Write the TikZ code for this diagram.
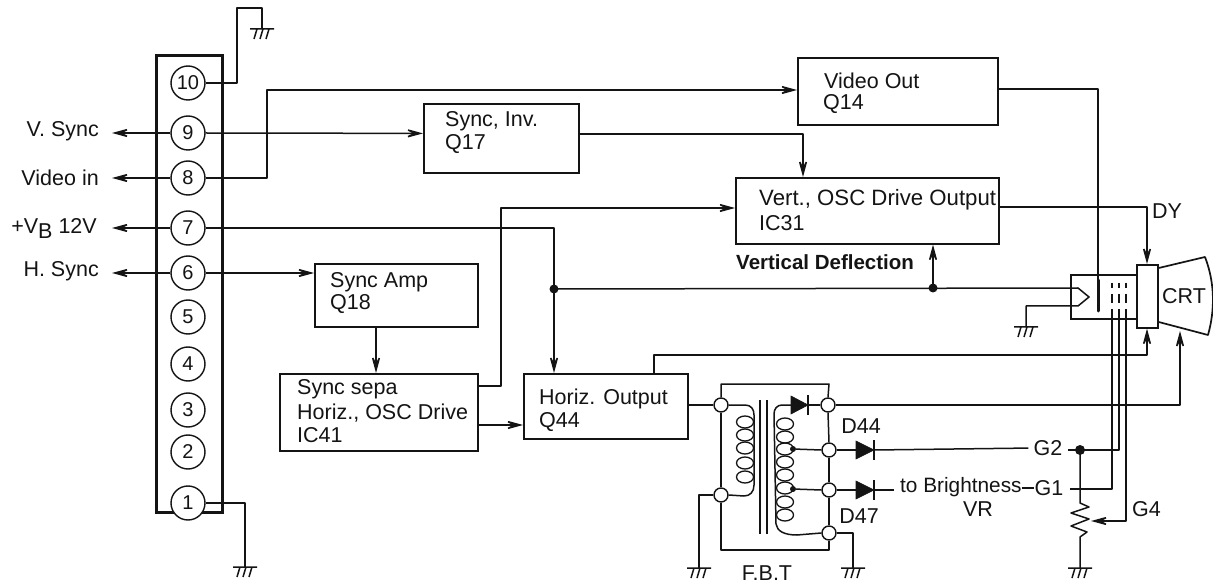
\documentclass[tikz,border=0pt]{standalone}
\usepackage{fontspec}
\setmainfont{Liberation Sans}
\usetikzlibrary{arrows.meta,calc}
\definecolor{ink}{gray}{0.08}
\tikzset{
  wire/.style={line width=1.5pt,line join=round,draw=ink},
  arr/.style={wire,-{Stealth[length=22pt,width=12pt,inset=12pt]}},
  blockbox/.style={draw=ink,line width=1.7pt,rectangle,inner sep=0pt,anchor=north west},
  pin/.style={circle,draw=ink,fill=white,line width=1.4pt,minimum size=34pt,inner sep=0pt,text=ink,font=\fontsize{20}{20}\selectfont},
  term/.style={circle,draw=ink,fill=white,line width=1.4pt,minimum size=14pt,inner sep=0pt},
  lbl/.style={inner sep=0pt,font=\fontsize{21.5}{24}\selectfont,text=ink},
  lblw/.style={lbl,anchor=west,align=left},
  dot/.style={circle,fill=ink,minimum size=9pt,inner sep=0pt},
  diodetri/.style={fill=ink,draw=ink,line width=.6pt},
  gnd/.pic={\draw[line width=1.5pt,draw=ink] (-12,0)--(12,0) (-5,0)--(-8,10) (1,0)--(-2,10) (7,0)--(4,10);},
  coilloop/.style={line width=1.3pt,draw=ink},
}
\begin{document}
\begin{tikzpicture}[x=1pt,y=-1pt]
\useasboundingbox (0,0) rectangle (1213,585);
\fill[white] (0,0) rectangle (1213,585);
% connector panel
\node[blockbox,line width=3pt,minimum width=66pt,minimum height=457pt] (panel) at (155,54) {};
\foreach \n/\yy in {10/83,9/133,8/178,7/228,6/273,5/317,4/364,3/410,2/452,1/503}{
  \node[pin] (p\n) at (188,\yy) {\n};
}
% blocks
\node[blockbox,minimum width=200pt,minimum height=67pt] (video) at (797,57) {};
\node[blockbox,minimum width=155pt,minimum height=69pt] (inv) at (423,103) {};
\node[blockbox,minimum width=263pt,minimum height=66pt] (vert) at (735,177) {};
\node[blockbox,minimum width=163pt,minimum height=63pt] (amp) at (314,263) {};
\node[blockbox,minimum width=198pt,minimum height=77pt] (sepa) at (279,373) {};
\node[blockbox,minimum width=164pt,minimum height=65pt] (horiz) at (523,373) {};
% block labels
\node[lblw] at (824,81) {Video Out};
\node[lblw] at (823,104) {Q14};
\node[lblw] at (445,121) {Sync, Inv.};
\node[lblw] at (445,144) {Q17};
\node[lblw,font=\fontsize{22.2}{24}\selectfont] at (759,200) {Vert., OSC Drive Output};
\node[lblw] at (759,223) {IC31};
\node[lblw] at (330,282) {Sync Amp};
\node[lblw] at (330,304) {Q18};
\node[lblw] at (297,389) {Sync sepa};
\node[lblw] at (297,413) {Horiz., OSC Drive};
\node[lblw] at (297,435) {IC41};
\node[lblw] at (539,399) {Horiz. Output};
\node[lblw] at (539,422) {Q44};
\node[lblw,font=\fontsize{20.5}{24}\selectfont\bfseries] at (736,262) {Vertical Deflection};
% left labels
\node[lbl,anchor=east] (lv) at (99,131) {V. Sync};
\node[lbl,anchor=east] (lvi) at (99,178) {Video in};
\node[lbl,anchor=east] (lb) at (97,228) {+V\raisebox{-5pt}{B} 12V};
\node[lbl,anchor=east] (lh) at (99,271) {H. Sync};
% free ends
\coordinate (e9) at (112,133);
\coordinate (e8) at (112,178);
\coordinate (e7) at (112,228);
\coordinate (e6) at (112,273);
\draw[arr] (p9)--(e9);
\draw[arr] (p8)--(e8);
\draw[arr] (p7)--(e7);
\draw[arr] (p6)--(e6);
% grounds
\coordinate (g10) at (262,29);
\coordinate (g1) at (245,567);
\coordinate (gfl) at (699,568);
\coordinate (gfr) at (853,568);
\coordinate (gcrt) at (1026,327);
\coordinate (gvr) at (1080,568);
\foreach \g in {g10,g1,gfl,gfr,gcrt,gvr}{\path (\g) pic {gnd};}
\draw[wire] (p10.east)-|(237,8)-|(g10);
\draw[wire] (p1.east)-|(g1);
% signal wires
\coordinate (inin) at (423,133.4);
\draw[arr] (p9.east)--(inin);
\draw[arr] (p6.east)--(amp.west|-p6.east);
\draw[arr] (p8.east)-|(267,90)--(video.west|-0,90);
\coordinate (dotA) at (554,289);
\coordinate (dotB) at (933,288);
\draw[arr] (p7.east)-|(horiz.north-|dotA);
\draw[arr] (amp.south-|376,0)--(sepa.north-|376,0);
\draw[arr] (sepa.east|-0,386)-|(501,208)--(vert.west|-0,208);
\draw[arr] (sepa.east|-0,425)--(horiz.west|-0,425);
\draw[arr] (inv.east|-0,134)-|(vert.north-|803,0);
% CRT
\node[blockbox,minimum width=66pt,minimum height=44pt] (gun) at (1070,274) {};
\node[blockbox,fill=white,minimum width=21pt,minimum height=63pt] (yoke) at (1136,264) {};
\draw[wire,line width=1.7pt] (yoke.east|-0,268) -- (1205,257) .. controls (1215,283) and (1215,310) .. (1208,335) -- (yoke.east|-0,322);
\node[lbl] (crt) at (1184,296) {CRT};
\draw[arr] (vert.east|-0,207)-|(yoke.north-|1147,0);
\node[lbl,anchor=west] (dy) at (1152,211) {DY};
\draw[wire] (dotA)--(1078,288)--(1089,297)--(1078,306)-|(gcrt);
\node[dot] at (dotA) {};
\node[dot] at (dotB) {};
\draw[arr] (dotB)--(vert.south-|dotB);
\draw[line width=3pt,draw=ink,line cap=round] (1098,280)--(1098,311);
\draw[wire] (video.east|-0,89)-|(1098,280);
\foreach \xx in {1112,1119,1126}{
  \draw[line width=1.6pt,draw=ink] (\xx,283)--(\xx,288) (\xx,294)--(\xx,303) (\xx,309)--(\xx,315);
}
\draw[arr] (horiz.north-|654,0)--(654,355)-|(yoke.south-|1147,0);
% transformer terminals
\node[term] (tl1) at (721,405) {};
\node[term] (tl2) at (721,495) {};
\node[term] (tr1) at (828,405) {};
\node[term] (tr2) at (829,450) {};
\node[term] (tr3) at (829,490) {};
\node[term] (tr4) at (829,533) {};
\draw[wire] (horiz.east|-tl1)--(tl1);
\draw[wire] (tl1.north)|-(829,384)--(tr1.north);
\draw[wire] (tl1.south)--(tl2.north);
\draw[wire] (tl2.south)|-(829,550)--(tr4.south);
\draw[wire] (tr1.south)--(tr2.north);
\draw[wire] (tr2.south)--(tr3.north);
\draw[wire] (tr3.south)--(tr4.north);
\draw[wire] (tl2.west)-|(gfl);
\draw[wire] (tr4.east)-|(gfr);
% core
\draw[wire] (760,400)--(760,534) (767,400)--(767,534);
% left coil
\draw[wire] (tl1.east)--(745,405) .. controls (751,405) and (754,409) .. (754,415) -- (754,485) .. controls (754,492) and (750,496) .. (744,496) -- (tl2.east);
\foreach \yy in {422,435,448,463,477}{\draw[coilloop] (745,\yy) ellipse [x radius=8.5pt,y radius=6pt];}
% right coil
\draw[wire] (791,405)--(782,405) .. controls (777,405) and (774,409) .. (774,414) -- (776,524) .. controls (777,531) and (784,535) .. (797,535) -- (tr4.west);
\foreach \yy in {424,437,449,462,475,488,502,515}{\draw[coilloop] (785,\yy) ellipse [x radius=8.5pt,y radius=6pt];}
% tapped coil leads
\node[dot,minimum size=6pt] (tap2) at (793,449) {};
\node[dot,minimum size=6pt] (tap3) at (793,489) {};
\draw[wire] (tap2)--(tr2.west);
\draw[wire] (tap3)--(tr3.west);
% diodes
\coordinate (d0a) at (791,405); \coordinate (d0k) at (808,405);
\coordinate (d1a) at (856,450); \coordinate (d1k) at (874,450);
\coordinate (d2a) at (856,490); \coordinate (d2k) at (874,490);
\foreach \a/\k in {d0a/d0k,d1a/d1k,d2a/d2k}{
  \fill[diodetri] ($(\a)+(0,-9)$)--($(\a)+(0,9)$)--(\k)--cycle;
  \draw[line width=1.4pt,draw=ink] ($(\k)+(0,-10)$)--($(\k)+(0,10)$);
}
\draw[wire] (d0k)--(tr1.west);
\draw[wire] (tr2.east)--(d1a);
\draw[wire] (tr3.east)--(d2a);
\coordinate (toB) at (894,490);
\draw[wire] (d2k)--(toB);
\node[lbl] (ld44) at (861,426) {D44};
\node[lbl] (ld47) at (859,516) {D47};
\node[lbl] (lfbt) at (767,573) {F.B.T};
\node[lbl,anchor=west,font=\fontsize{20.8}{24}\selectfont] (lbr) at (900,487) {to Brightness};
\node[lbl] (lvr) at (978,509) {VR};
\node[lbl] (lg2) at (1048,448) {G2};
\node[lbl] (lg1) at (1049,488) {G1};
\node[lbl,anchor=west] (lg4) at (1132,509) {G4};
\draw[wire,shorten >=5pt] (d1k)--(lg2.west);
\draw[wire] (lbr.east|-lg1.west)--(lg1.west);
\draw[arr] (tr1.east)-|(1180,331);
% grid leads
\coordinate (vrtop) at (1080,450);
\draw[wire] (1068,450)--(1119,450)--(1119,315);
\draw[wire] (1070,489)--(1112,489)--(1112,315);
\coordinate (wiper) at (1091,521);
\draw[arr] (1126,315)--(1126,521)--(wiper);
\node[dot,minimum size=10pt] at (vrtop) {};
\draw[wire] (vrtop)--(1080,503)--(1089,507)--(1071,513)--(1089,519)--(1071,526)--(1087,532)--(1080,537)--(gvr);
\end{tikzpicture}
\end{document}
